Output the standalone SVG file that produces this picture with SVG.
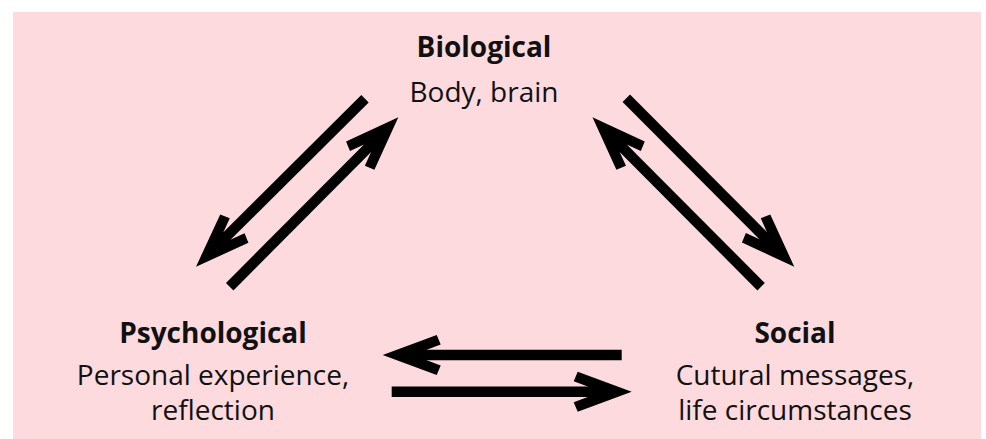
<svg xmlns="http://www.w3.org/2000/svg" width="986" height="439" viewBox="0 0 986 439">
  <style>
    .title { font-family: "Open Sans", "Noto Sans", "DejaVu Sans", sans-serif; font-weight: bold; font-size: 28px; fill: #111; text-anchor: middle; }
    .desc { font-family: "Open Sans", "Noto Sans", "DejaVu Sans", sans-serif; font-size: 28px; fill: #111; text-anchor: middle; }
    .arrow { stroke: #000; stroke-width: 10.5; stroke-linecap: butt; fill: none; marker-end: url(#head); }
  </style>
  <defs>
    <marker id="head" markerUnits="userSpaceOnUse" orient="auto" refX="2" refY="0" markerWidth="120" markerHeight="120" viewBox="-60 -60 120 120" overflow="visible">
      <path d="M44,0 L-10,-20 L-14,-10.5 L0,-5.25 L0,5.25 L-14,10.5 L-10,20 Z" fill="#000"/>
    </marker>
  </defs>
  <rect x="13" y="12" width="968" height="427" fill="#FCDADE"/>
  <g id="biological">
    <text class="title" x="484" y="57">Biological</text>
    <text class="desc" x="484" y="102">Body, brain</text>
  </g>
  <g id="psychological">
    <text class="title" x="213" y="343">Psychological</text>
    <text class="desc" x="213" y="385">Personal experience,</text>
    <text class="desc" x="213" y="420">reflection</text>
  </g>
  <g id="social">
    <text class="title" x="795" y="343">Social</text>
    <text class="desc" x="795" y="385">Cutural messages,</text>
    <text class="desc" x="795" y="420">life circumstances</text>
  </g>
  <g id="connectors">
    <line class="arrow" x1="365" y1="98.8" x2="225.8" y2="237.1"/>
    <line class="arrow" x1="229.7" y1="286.7" x2="368.7" y2="147.1"/>
    <line class="arrow" x1="626.3" y1="98.3" x2="764.6" y2="237"/>
    <line class="arrow" x1="761.1" y1="286.7" x2="622.1" y2="147.1"/>
    <line class="arrow" x1="621.7" y1="355" x2="424.7" y2="355"/>
    <line class="arrow" x1="391.7" y1="391.7" x2="589.7" y2="391.7"/>
  </g>
</svg>
